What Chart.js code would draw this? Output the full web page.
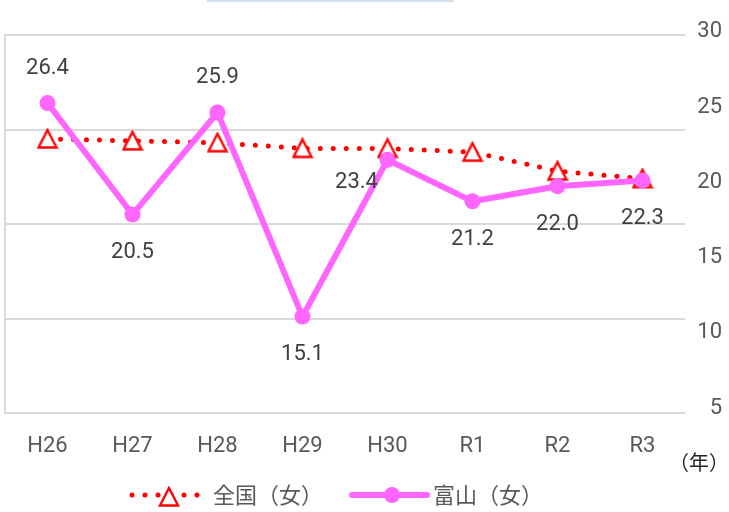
<!DOCTYPE html>
<html>
<head>
<meta charset="utf-8">
<script src="https://cdn.jsdelivr.net/npm/chart.js@4"></script>
<style>
  body { margin: 0; background: #fff; }
  #wrap { width: 729px; height: 512px; }
</style>
</head>
<body>
<div id="wrap"><canvas id="chartCanvas" width="729" height="512"></canvas></div>
<script>
// data
const categories = ['H26', 'H27', 'H28', 'H29', 'H30', 'R1', 'R2', 'R3'];
const toyamaValues = [26.4, 20.5, 25.9, 15.1, 23.4, 21.2, 22.0, 22.3];
const nationalValues = [24.5, 24.4, 24.3, 24.0, 24.0, 23.8, 22.8, 22.4];
const toyamaLabelPos = ['above', 'below', 'above', 'below', 'left', 'below', 'below', 'below'];
const gridTicks = [10, 15, 20, 25, 30];
const rightTicks = [5, 10, 15, 20, 25, 30];
const seriesNames = ['全国（女）', '富山（女）'];
const yearUnit = '（年）';

const RED = '#ff0000';
const PINK = '#ff66ff';
const LABEL_FONT = "'Roboto', 'Liberation Sans', sans-serif";
const JP_FONT = "'Noto Sans CJK JP', sans-serif";

// triangle marker, centred in its box like the office one
function makeTriangle() {
    const c = document.createElement('canvas');
    c.width = 22;
    c.height = 22;
    const g = c.getContext('2d');
    g.beginPath();
    g.moveTo(11, 2);
    g.lineTo(20, 19.5);
    g.lineTo(2, 19.5);
    g.closePath();
    g.fillStyle = '#fff';
    g.fill();
    g.lineWidth = 2.4;
    g.strokeStyle = RED;
    g.lineJoin = 'miter';
    g.stroke();
    return c;
}
const triangle = makeTriangle();

const valueLabels = {
    id: 'valueLabels',
    afterDatasetsDraw(chart) {
        const ctx = chart.ctx;
        const meta = chart.getDatasetMeta(0);
        ctx.save();
        ctx.font = '22px ' + LABEL_FONT;
        ctx.fillStyle = '#404040';
        ctx.textAlign = 'center';
        ctx.textBaseline = 'middle';
        meta.data.forEach((pt, i) => {
            let x = pt.x, y = pt.y;
            const pos = toyamaLabelPos[i];
            if (pos === 'above') y -= 35;
            else if (pos === 'below') y += 38;
            else { x -= 31; y += 23; }
            ctx.fillText(toyamaValues[i].toFixed(1), x, y);
        });
        ctx.restore();
    }
};

const extras = {
    id: 'extras',
    beforeDraw(chart) {
        const ctx = chart.ctx;
        ctx.save();
        // edge of the cut off title box
        ctx.fillStyle = '#d6deef';
        ctx.fillRect(207, 0, 247, 2);
        ctx.restore();
    },
    afterDraw(chart) {
        const ctx = chart.ctx;
        const ly = 495;
        ctx.save();

        // legend: national
        ctx.strokeStyle = RED;
        ctx.lineWidth = 5;
        ctx.lineCap = 'round';
        ctx.setLineDash([0, 13]);
        ctx.beginPath();
        ctx.moveTo(132, ly);
        ctx.lineTo(198, ly);
        ctx.stroke();
        ctx.setLineDash([]);
        ctx.drawImage(triangle, 169 - 11, ly + 2 - 11);

        ctx.font = '22px ' + JP_FONT;
        ctx.fillStyle = '#595959';
        ctx.textBaseline = 'middle';
        ctx.textAlign = 'left';
        ctx.fillText(seriesNames[0], 213, ly);

        // legend: toyama
        ctx.strokeStyle = PINK;
        ctx.lineWidth = 6;
        ctx.beginPath();
        ctx.moveTo(352, ly);
        ctx.lineTo(427, ly);
        ctx.stroke();
        ctx.fillStyle = PINK;
        ctx.beginPath();
        ctx.arc(392, ly, 8, 0, Math.PI * 2);
        ctx.fill();

        ctx.fillStyle = '#595959';
        ctx.fillText(seriesNames[1], 433, ly);

        // unit label
        ctx.font = '20px ' + JP_FONT;
        ctx.fillStyle = '#262626';
        ctx.textAlign = 'right';
        ctx.fillText(yearUnit, 729, 462);
        ctx.restore();
    }
};

const ctx = document.getElementById('chartCanvas').getContext('2d');
new Chart(ctx, {
    type: 'line',
    data: {
        labels: categories,
        datasets: [{
            label: seriesNames[1],
            data: toyamaValues,
            order: 0,
            borderColor: PINK,
            backgroundColor: PINK,
            borderWidth: 6,
            pointRadius: 8,
            pointHoverRadius: 8,
            pointBackgroundColor: PINK,
            pointBorderWidth: 0,
            tension: 0,
            yAxisID: 'y'
        }, {
            label: seriesNames[0],
            data: nationalValues,
            order: 1,
            borderColor: RED,
            borderWidth: 5,
            borderDash: [0, 13],
            borderCapStyle: 'round',
            pointStyle: triangle,
            pointRadius: 10,
            tension: 0,
            yAxisID: 'y'
        }]
    },
    options: {
        responsive: false,
        animation: false,
        layout: {
            autoPadding: false,
            padding: { top: 35, right: 7, left: 0, bottom: 0 }
        },
        plugins: {
            legend: { display: false },
            tooltip: { enabled: false }
        },
        scales: {
            x: {
                offset: true,
                grid: { display: false, drawTicks: false },
                border: { display: false },
                ticks: {
                    color: '#595959',
                    font: { family: LABEL_FONT, size: 22 },
                    padding: 20
                },
                afterFit(s) {
                    s.height = 99;
                    s.paddingLeft = 0;
                    s.paddingRight = 0;
                }
            },
            y: {
                position: 'left',
                min: 10,
                max: 30,
                afterBuildTicks(s) { s.ticks = gridTicks.map(v => ({ value: v })); },
                grid: { color: '#d9d9d9', lineWidth: 2, drawTicks: false },
                border: { display: true, color: '#d9d9d9', width: 2 },
                ticks: { display: false },
                afterFit(s) { s.width = 5; }
            },
            y2: {
                position: 'right',
                min: 4.67,
                max: 29.8,
                afterBuildTicks(s) { s.ticks = rightTicks.map(v => ({ value: v })); },
                grid: { display: false, drawTicks: false },
                border: { display: false },
                ticks: {
                    color: '#595959',
                    crossAlign: 'far',
                    font: { family: LABEL_FONT, size: 22 }
                },
                afterFit(s) { s.width = 37; }
            }
        }
    },
    plugins: [valueLabels, extras]
});
</script>
</body>
</html>
